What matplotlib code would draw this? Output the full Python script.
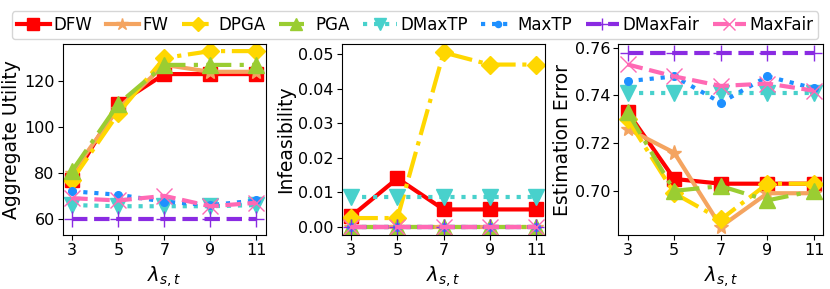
import matplotlib
matplotlib.use("Agg")
import matplotlib.pyplot as plt

lam = [3, 5, 7, 9, 11]
methods = ["DFW", "FW", "DPGA", "PGA", "DMaxTP", "MaxTP", "DMaxFair", "MaxFair"]

utility = {
    "DFW": [77, 110, 123, 123, 123],
    "FW": [80, 108, 127, 124, 124],
    "DPGA": [77, 106, 130, 133, 133],
    "PGA": [81, 110, 127, 127, 127],
    "DMaxTP": [66, 65.5, 65.5, 65.5, 66],
    "MaxTP": [72, 70.5, 67.5, 66, 68],
    "DMaxFair": [60, 60, 60, 60, 60],
    "MaxFair": [69, 68, 70, 65.5, 67],
}
infeas = {
    "DFW": [0.003, 0.014, 0.005, 0.005, 0.005],
    "FW": [0, 0, 0, 0, 0],
    "DPGA": [0.0025, 0.0025, 0.0505, 0.047, 0.047],
    "PGA": [0, 0, 0, 0, 0],
    "DMaxTP": [0.0085, 0.0085, 0.0085, 0.0085, 0.0085],
    "MaxTP": [0, 0, 0, 0, 0],
    "DMaxFair": [0, 0, 0, 0, 0],
    "MaxFair": [0, 0, 0, 0, 0],
}
est_err = {
    "DFW": [0.733, 0.705, 0.703, 0.703, 0.703],
    "FW": [0.726, 0.716, 0.685, 0.699, 0.699],
    "DPGA": [0.730, 0.699, 0.688, 0.703, 0.703],
    "PGA": [0.733, 0.700, 0.702, 0.696, 0.700],
    "DMaxTP": [0.741, 0.741, 0.741, 0.741, 0.741],
    "MaxTP": [0.746, 0.748, 0.737, 0.748, 0.743],
    "DMaxFair": [0.758, 0.758, 0.758, 0.758, 0.758],
    "MaxFair": [0.753, 0.748, 0.744, 0.745, 0.742],
}

styles = {
    "DFW": dict(color="red", ls="-", marker="s", ms=10),
    "FW": dict(color="sandybrown", ls="-", marker="*", ms=11),
    "DPGA": dict(color="gold", ls="-.", marker="D", ms=9),
    "PGA": dict(color="yellowgreen", ls=(0, (6, 2, 1, 2)), marker="^", ms=11),
    "DMaxTP": dict(color="mediumturquoise", ls=":", marker="v", ms=11),
    "MaxTP": dict(color="dodgerblue", ls=":", marker=".", ms=11),
    "DMaxFair": dict(color="blueviolet", ls="--", marker="+", ms=11),
    "MaxFair": dict(color="hotpink", ls="--", marker="x", ms=11),
}

fig = plt.figure(figsize=(8.3, 2.89), dpi=100)
axes = [fig.add_axes([0.076, 0.187, 0.244, 0.66]),
        fig.add_axes([0.412, 0.187, 0.245, 0.66]),
        fig.add_axes([0.745, 0.187, 0.247, 0.66])]
panels = [(utility, "Aggregate Utility"), (infeas, "Infeasibility"), (est_err, "Estimation Error")]

handles = []
for ax, (data, ylabel) in zip(axes, panels):
    for m in methods:
        s = styles[m]
        h, = ax.plot(lam, data[m], color=s["color"], linestyle=s["ls"], marker=s["marker"],
                     markersize=s["ms"], linewidth=3)
        if ax is axes[0]:
            handles.append(h)
    ax.set_xticks(lam)
    ax.set_xlabel(r"$\lambda_{s,t}$", fontsize=14)
    ax.set_ylabel(ylabel, fontsize=13.5, labelpad=2)
    ax.tick_params(labelsize=11.5, pad=2.5)

axes[0].set_ylim(53, 136)
axes[0].set_yticks([60, 80, 100, 120])
axes[1].set_ylim(-0.0024, 0.0529)
axes[1].set_yticks([0.0, 0.01, 0.02, 0.03, 0.04, 0.05])
axes[2].set_ylim(0.6815, 0.7615)
axes[2].set_yticks([0.70, 0.72, 0.74, 0.76])

fig.legend(handles, methods, loc="upper center", ncol=8, bbox_to_anchor=(0.5, 0.99),
           fontsize=12, handlelength=2.0, handletextpad=0.2, columnspacing=0.8,
           borderpad=0.3, markerscale=0.8)

fig.savefig("out.png", dpi=100)
